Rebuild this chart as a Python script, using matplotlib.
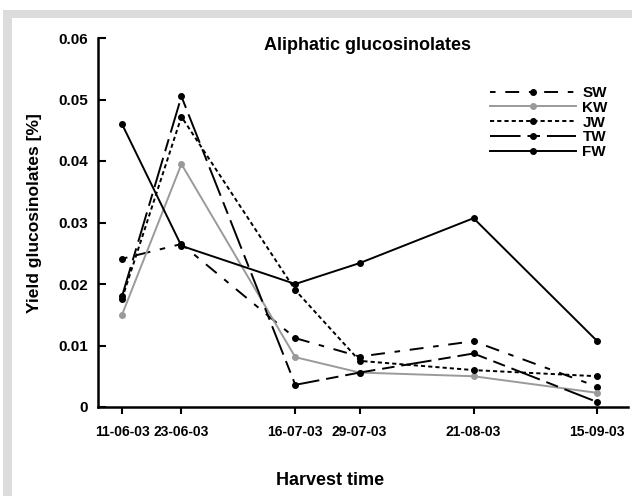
import matplotlib
matplotlib.use("Agg")
import matplotlib.pyplot as plt
from matplotlib.patches import Rectangle
import pandas as pd

plt.rcParams['font.family'] = ['Liberation Sans', 'DejaVu Sans']
plt.rcParams['lines.scale_dashes'] = False

# ---- data ----
harvest_dates = ["11-06-03", "23-06-03", "16-07-03", "29-07-03", "21-08-03", "15-09-03"]
series_names = ["SW", "KW", "JW", "TW", "FW"]
sw = [0.0241, 0.0265, 0.0112, 0.0082, 0.0107, 0.0033]
kw = [0.0150, 0.0395, 0.0081, 0.0056, 0.0050, 0.0023]
jw = [0.0176, 0.0472, 0.0190, 0.0075, 0.0060, 0.0050]
tw = [0.0180, 0.0505, 0.0036, 0.0056, 0.0087, 0.0008]
fw = [0.0460, 0.0262, 0.0200, 0.0234, 0.0307, 0.0107]
title = "Aliphatic glucosinolates"
xlabel = "Harvest time"
ylabel = "Yield glucosinolates [%]"
yticks = [0, 0.01, 0.02, 0.03, 0.04, 0.05, 0.06]
ytick_labels = ["0", "0.01", "0.02", "0.03", "0.04", "0.05", "0.06"]

dates = pd.to_datetime(harvest_dates, format="%d-%m-%y")

W, H = 632, 496
fig = plt.figure(figsize=(W / 100, H / 100), dpi=100)
fig.patch.set_facecolor("white")
# gray frame on top/left
fig.patches.append(Rectangle((3 / W, 0), 1, 1 - 10 / H, transform=fig.transFigure,
                             facecolor="#dcdcdc", edgecolor="none", zorder=-10))
fig.patches.append(Rectangle((12 / W, 0), 1, 1 - 18 / H, transform=fig.transFigure,
                             facecolor="white", edgecolor="none", zorder=-9))

ax = fig.add_axes([98 / W, 1 - 407 / H, (628 - 98) / W, (407 - 38) / H])
ax.patch.set_alpha(0)

styles = {
    "SW": dict(color="black", dashes=[4, 7, 10, 7]),
    "KW": dict(color="#9a9a9a", linestyle="-"),
    "JW": dict(color="black", dashes=[3, 2.2]),
    "TW": dict(color="black", dashes=[22, 5, 9, 5]),
    "FW": dict(color="black", linestyle="-"),
}
data = {"SW": sw, "KW": kw, "JW": jw, "TW": tw, "FW": fw}
for name in series_names:
    st = styles[name]
    ax.plot(dates, data[name], marker="o", markersize=4, linewidth=1.4,
            label=name, **st)

ax.set_ylim(0, 0.06)
ax.set_xlim(dates[0] - pd.Timedelta(days=4.85), dates[0] + pd.Timedelta(days=102.2))
ax.set_yticks(yticks)
ax.set_yticklabels(ytick_labels)
ax.set_xticks(dates)
ax.set_xticklabels(harvest_dates)

for s in ["top", "right"]:
    ax.spines[s].set_visible(False)
for s in ["left", "bottom"]:
    ax.spines[s].set_linewidth(1.8)

ax.tick_params(axis="y", direction="in", length=6, width=1.5, labelsize=11, pad=7)
ax.tick_params(axis="x", direction="out", length=5, width=1.5, labelsize=10, pad=8)
for lbl in ax.get_xticklabels() + ax.get_yticklabels():
    lbl.set_fontweight("bold")

ax.set_xlabel(xlabel, fontsize=13, fontweight="bold")
ax.xaxis.set_label_coords((330 - 98) / (628 - 98), -(472 - 407) / (407 - 38))
ax.set_ylabel(ylabel, fontsize=12.5, fontweight="bold")
ax.yaxis.set_label_coords(-(98 - 42) / (628 - 98), (407 - 213) / (407 - 38))

fig.text(367 / W, 1 - 45 / H, title, fontsize=13, fontweight="bold",
         ha="center", va="center")

leg = ax.legend(loc="upper left", bbox_to_anchor=((490 - 98) / (628 - 98), 1 - (86 - 38) / (407 - 38)),
                frameon=False, handlelength=5.6, handletextpad=0.45,
                labelspacing=0.05, borderpad=0, borderaxespad=0,
                prop=dict(weight="bold", size=11))

fig.savefig("out.png", dpi=100)
